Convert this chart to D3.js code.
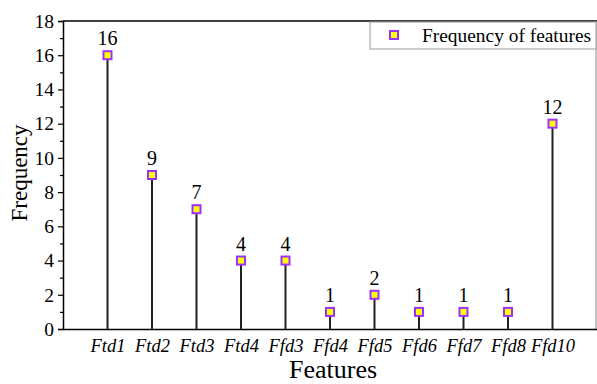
<!DOCTYPE html>
<html><head><meta charset="utf-8">
<script src="https://cdn.jsdelivr.net/npm/d3@7"></script>
<style>body{margin:0;background:#fff}svg{display:block}</style>
</head><body>
<svg id="c" width="597" height="384"></svg>
<script>
const categories = ["Ftd1","Ftd2","Ftd3","Ftd4","Ffd3","Ffd4","Ffd5","Ffd6","Ffd7","Ffd8","Ffd10"];
const frequency = [16,9,7,4,4,1,2,1,1,1,12];
const yTicks = [0,2,4,6,8,10,12,14,16,18];

const svg = d3.select("#c");
const L = 63, R = 597, T = 21, B = 329;
const font = "'Liberation Serif','Times New Roman',serif";
const x = d3.scaleLinear().domain([0, categories.length + 1]).range([L, R]);
const y = d3.scaleLinear().domain([0, 18]).range([B, T]);

// frame
svg.append("line").attr("x1",L).attr("x2",R).attr("y1",T).attr("y2",T).attr("stroke","#000").attr("stroke-width",1.5);
svg.append("line").attr("x1",R-1).attr("x2",R-1).attr("y1",T).attr("y2",B).attr("stroke","#888").attr("stroke-width",1);

// y axis
const yAxis = d3.axisLeft(y).tickValues(yTicks).tickSize(5).tickPadding(4);
const gy = svg.append("g").attr("transform",`translate(${L},0)`).call(yAxis);
gy.select(".domain").attr("stroke","#000").attr("stroke-width",1.5);
gy.selectAll(".tick line").attr("stroke","#000").attr("stroke-width",1.2);
gy.selectAll(".tick text").attr("font-family",font).attr("font-size",19.5).attr("fill","#000");
// minor ticks
const minor = d3.range(1,18,2);
svg.append("g").attr("transform",`translate(${L},0)`).call(d3.axisLeft(y).tickValues(minor).tickSize(3).tickFormat(""))
  .call(g=>{g.select(".domain").remove(); g.selectAll(".tick line").attr("stroke","#000").attr("stroke-width",1.2);});

// x axis
const xAxis = d3.axisBottom(x).tickValues(d3.range(1, categories.length+1)).tickSize(0).tickPadding(10)
  .tickFormat(i => categories[i-1]);
const gx = svg.append("g").attr("transform",`translate(0,${B})`).call(xAxis);
gx.select(".domain").attr("stroke","#000").attr("stroke-width",1.5);
gx.selectAll(".tick text").attr("font-family",font).attr("font-size",18.5).attr("font-style","italic").attr("fill","#000");

// stems
const idx = categories.map((c,i)=>i);
svg.append("g").selectAll("line").data(idx).join("line")
  .attr("x1",i=>x(i+1)).attr("x2",i=>x(i+1))
  .attr("y1",i=>y(frequency[i])).attr("y2",y(0))
  .attr("stroke","#222").attr("stroke-width",2);

// markers
const ms = 8;
svg.append("g").selectAll("rect").data(idx).join("rect")
  .attr("x",i=>x(i+1)-ms/2).attr("y",i=>y(frequency[i])-ms/2)
  .attr("width",ms).attr("height",ms)
  .attr("fill","#ffff00").attr("stroke","#9b30ff").attr("stroke-width",2);

// value labels
svg.append("g").selectAll("text").data(idx).join("text")
  .attr("x",i=>x(i+1)).attr("y",i=>y(frequency[i])-10)
  .attr("text-anchor","middle").attr("font-family",font).attr("font-size",20).attr("fill","#000")
  .text(i=>frequency[i]);

// axis titles
svg.append("text").attr("x",333).attr("y",378).attr("text-anchor","middle")
  .attr("font-family",font).attr("font-size",26).attr("fill","#000").text("Features");
svg.append("text").attr("transform",`translate(27,173) rotate(-90)`).attr("text-anchor","middle")
  .attr("font-family",font).attr("font-size",23).attr("fill","#000").text("Frequency");

// legend
const lg = svg.append("g");
lg.append("rect").attr("x",370).attr("y",22).attr("width",226).attr("height",27)
  .attr("fill","#fff").attr("stroke","#999").attr("stroke-width",1);
lg.append("rect").attr("x",394-ms/2).attr("y",35-ms/2).attr("width",ms).attr("height",ms)
  .attr("fill","#ffff00").attr("stroke","#9b30ff").attr("stroke-width",2);
lg.append("text").attr("x",422).attr("y",42).attr("font-family",font).attr("font-size",19.4).attr("fill","#000")
  .text("Frequency of features");
</script>
</body></html>
